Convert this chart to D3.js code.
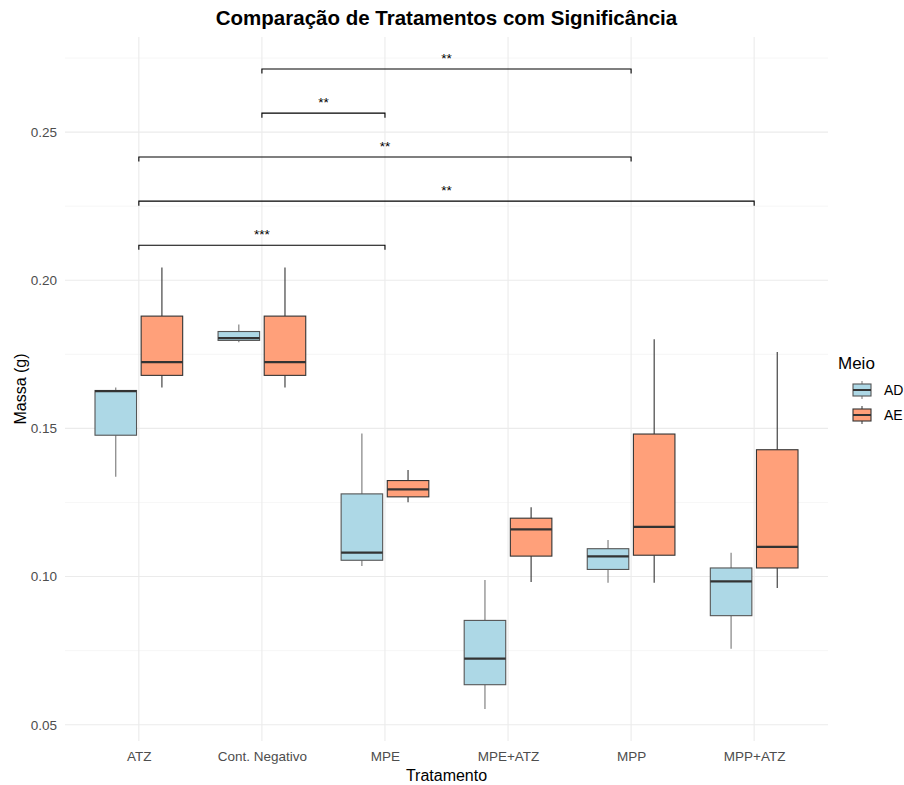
<!DOCTYPE html>
<html><head><meta charset="utf-8">
<script src="https://cdnjs.cloudflare.com/ajax/libs/d3/7.8.5/d3.min.js"></script>
<style>body{margin:0;background:#fff;} text{font-family:"Liberation Sans",Arial,sans-serif;}</style>
</head><body><svg id="c" width="904" height="785"></svg>
<script>
const categories = ["ATZ","Cont. Negativo","MPE","MPE+ATZ","MPP","MPP+ATZ"];
const groups = ["AD","AE"];
const colors = {AD:"#ADD8E6", AE:"#FFA07A"};
// [lowerWhisker, Q1, median, Q3, upperWhisker]
const statsAD = [
  [0.1337,0.1477,0.1626,0.1628,0.1638],
  [0.1791,0.1797,0.1805,0.1827,0.1851],
  [0.1036,0.1055,0.1081,0.1279,0.1483],
  [0.0553,0.0635,0.0723,0.0852,0.0988],
  [0.0979,0.1024,0.1068,0.1094,0.1123],
  [0.0756,0.0868,0.0984,0.1029,0.1080]
];
const statsAE = [
  [0.1638,0.1679,0.1724,0.1879,0.2043],
  [0.1638,0.1679,0.1724,0.1879,0.2043],
  [0.1251,0.1269,0.1294,0.1324,0.1360],
  [0.0982,0.1069,0.1159,0.1197,0.1234],
  [0.0979,0.1072,0.1168,0.1481,0.1801],
  [0.0961,0.1029,0.1100,0.1428,0.1758]
];
const brackets = [
  {from:"ATZ", to:"MPE", y:0.2118, label:"***"},
  {from:"ATZ", to:"MPP+ATZ", y:0.2267, label:"**"},
  {from:"ATZ", to:"MPP", y:0.2416, label:"**"},
  {from:"Cont. Negativo", to:"MPE", y:0.2564, label:"**"},
  {from:"Cont. Negativo", to:"MPP", y:0.2713, label:"**"}
];
const yTicks = [0.05,0.10,0.15,0.20,0.25];
const yMinor = [0.075,0.125,0.175,0.225,0.275];

const svg = d3.select("#c");
const L=65, R=828, T=37, B=741;
const x = d3.scalePoint().domain(categories).range([L,R]).padding(0.6);
const y = d3.scaleLinear().domain([0.0445,0.2821]).range([B,T]);
const step = x.step();
const dodge = d3.scaleBand().domain(groups).range([-0.375*step,0.375*step]);

// gridlines
const g = svg.append("g");
g.selectAll(".ymin").data(yMinor).enter().append("line")
  .attr("x1",L).attr("x2",R).attr("y1",d=>y(d)).attr("y2",d=>y(d))
  .attr("stroke","#F0F0F0").attr("stroke-width",0.6);
g.selectAll(".ymaj").data(yTicks).enter().append("line")
  .attr("x1",L).attr("x2",R).attr("y1",d=>y(d)).attr("y2",d=>y(d))
  .attr("stroke","#EBEBEB").attr("stroke-width",1.1);
g.selectAll(".xmaj").data(categories).enter().append("line")
  .attr("x1",d=>x(d)).attr("x2",d=>x(d)).attr("y1",T).attr("y2",B)
  .attr("stroke","#EBEBEB").attr("stroke-width",1.1);

// axes
const yAxis = d3.axisLeft(y).tickValues(yTicks).tickFormat(d3.format(".2f")).tickSize(0).tickPadding(8);
const ya = svg.append("g").attr("transform",`translate(${L},0)`).call(yAxis);
ya.select(".domain").remove();
ya.selectAll("text").attr("fill","#4D4D4D").attr("font-size",13.5);
const xAxis = d3.axisBottom(x).tickSize(0).tickPadding(10);
const xa = svg.append("g").attr("transform",`translate(0,${B})`).call(xAxis);
xa.select(".domain").remove();
xa.selectAll("text").attr("fill","#4D4D4D").attr("font-size",13.5);

// boxes
const boxW = 0.9*dodge.bandwidth();
function drawBoxes(stats, grp, stroke, wstroke){
  const gg = svg.append("g");
  stats.forEach((s,i)=>{
    const cx = x(categories[i]) + dodge(grp) + dodge.bandwidth()/2;
    gg.append("line").attr("x1",cx).attr("x2",cx).attr("y1",y(s[3])).attr("y2",y(s[4])).attr("stroke",wstroke).attr("stroke-width",1.1);
    gg.append("line").attr("x1",cx).attr("x2",cx).attr("y1",y(s[0])).attr("y2",y(s[1])).attr("stroke",wstroke).attr("stroke-width",1.1);
    gg.append("rect").attr("x",cx-boxW/2).attr("width",boxW).attr("y",y(s[3])).attr("height",y(s[1])-y(s[3]))
      .attr("fill",colors[grp]).attr("stroke",stroke).attr("stroke-width",1.1);
    gg.append("line").attr("x1",cx-boxW/2).attr("x2",cx+boxW/2).attr("y1",y(s[2])).attr("y2",y(s[2])).attr("stroke","#333333").attr("stroke-width",2.3);
  });
}
drawBoxes(statsAD,"AD","#555555","#777777");
drawBoxes(statsAE,"AE","#333333","#333333");

// brackets
const bg = svg.append("g");
brackets.forEach(b=>{
  const x1=x(b.from), x2=x(b.to), yy=y(b.y);
  bg.append("path").attr("d",`M${x1},${yy+4.5}V${yy}H${x2}V${yy+4.5}`).attr("fill","none").attr("stroke","#000").attr("stroke-width",1.1);
  bg.append("text").attr("x",(x1+x2)/2).attr("y",yy-6).attr("text-anchor","middle").attr("font-size",13.5).attr("fill","#000").text(b.label);
});

// title & axis titles
svg.append("text").attr("x",(L+R)/2).attr("y",25).attr("text-anchor","middle").attr("font-size",20.5).attr("font-weight","bold").attr("fill","#000").text("Comparação de Tratamentos com Significância");
svg.append("text").attr("x",(L+R)/2).attr("y",781).attr("text-anchor","middle").attr("font-size",16).attr("fill","#000").text("Tratamento");
svg.append("text").attr("transform",`translate(26,${(T+B)/2}) rotate(-90)`).attr("text-anchor","middle").attr("font-size",16).attr("fill","#000").text("Massa (g)");

// legend
const lg = svg.append("g").attr("transform","translate(838,0)");
lg.append("text").attr("x",0).attr("y",369).attr("font-size",17).attr("fill","#000").text("Meio");
groups.forEach((grp,i)=>{
  const ky = 381 + i*25;
  const kx = 14;
  const k = lg.append("g");
  k.append("line").attr("x1",kx+10).attr("x2",kx+10).attr("y1",ky).attr("y2",ky+18).attr("stroke",grp==="AD"?"#777":"#333").attr("stroke-width",1);
  k.append("rect").attr("x",kx+1).attr("y",ky+3).attr("width",18).attr("height",12).attr("fill",colors[grp]).attr("stroke",grp==="AD"?"#555":"#333").attr("stroke-width",1.1);
  k.append("line").attr("x1",kx+1).attr("x2",kx+19).attr("y1",ky+9).attr("y2",ky+9).attr("stroke","#333").attr("stroke-width",2);
  lg.append("text").attr("x",kx+32).attr("y",ky+14).attr("font-size",14).attr("fill","#000").text(grp);
});
</script></body></html>
